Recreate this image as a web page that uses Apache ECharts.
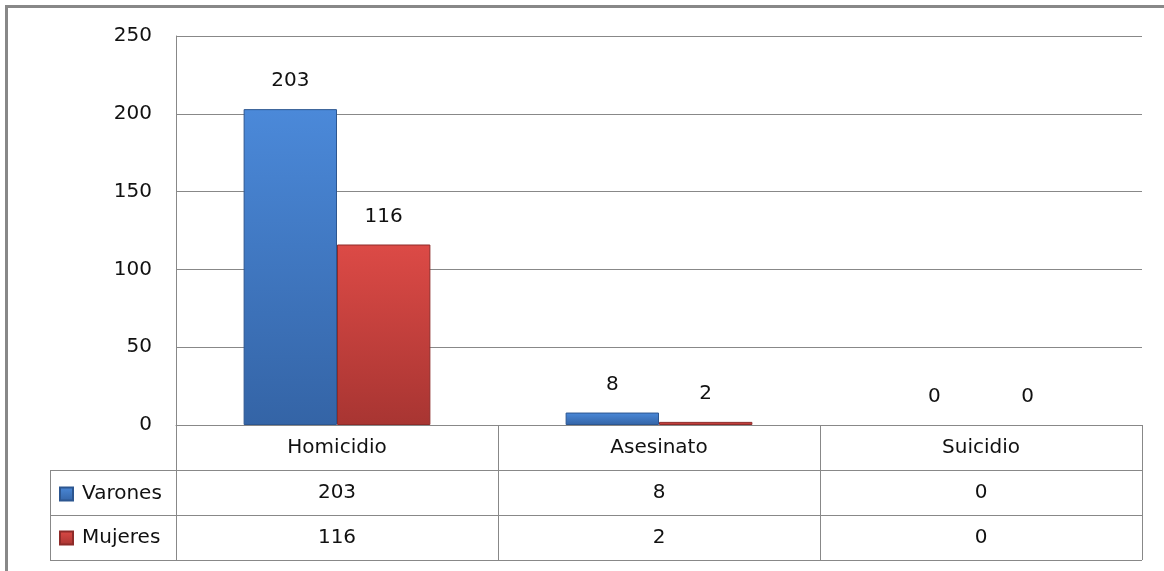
<!DOCTYPE html>
<html>
<head>
<meta charset="utf-8">
<title>Homicidio / Asesinato / Suicidio</title>
<script src="https://cdn.jsdelivr.net/npm/echarts@6/dist/echarts.min.js"></script>
<style>
  html, body { margin: 0; padding: 0; background: #fff; }
  #chart { width: 1164px; height: 571px; }
</style>
</head>
<body>
<div id="chart"></div>
<script>
const categories = ['Homicidio', 'Asesinato', 'Suicidio']
const varones = [203, 8, 0]
const mujeres = [116, 2, 0]
const yTicks = [0, 50, 100, 150, 200, 250]

const font = 'DejaVu Sans'
const lineColor = '#888'
const textColor = '#111'

const blueFill = new echarts.graphic.LinearGradient(0, 0, 0, 1, [
  { offset: 0, color: '#4b89d9' },
  { offset: 1, color: '#3464a6' }
])
const redFill = new echarts.graphic.LinearGradient(0, 0, 0, 1, [
  { offset: 0, color: '#dc4a46' },
  { offset: 1, color: '#a83532' }
])

// zero bars get no outline, so nothing shows for them
function barData(values) {
  return values.map(v => (v === 0 ? { value: v, itemStyle: { borderWidth: 0 } } : v))
}

// axis rows under the plot act as the data table
function tableAxis(values, offset) {
  return {
    type: 'category',
    data: values.map(String),
    position: 'bottom',
    offset: offset,
    axisLine: { show: false },
    axisTick: { show: false },
    axisLabel: { margin: 13, color: textColor, fontFamily: font, fontSize: 20 }
  }
}

const chart = echarts.init(document.getElementById('chart'))
chart.setOption({
  animation: false,
  grid: { left: 176, right: 22, top: 36, bottom: 146 },
  legend: {
    orient: 'vertical',
    left: 54,
    top: 479,
    itemWidth: 13,
    itemHeight: 13,
    itemGap: 24,
    icon: 'rect',
    textStyle: { color: textColor, fontFamily: font, fontSize: 20, padding: [0, 0, 0, 4] },
    data: ['Varones', 'Mujeres']
  },
  xAxis: [
    {
      type: 'category',
      data: categories,
      axisLine: { show: true, lineStyle: { color: lineColor } },
      axisTick: { show: true, interval: 0, length: 135, lineStyle: { color: lineColor } },
      axisLabel: { margin: 13, color: textColor, fontFamily: font, fontSize: 20 }
    },
    tableAxis(varones, 45),
    tableAxis(mujeres, 90)
  ],
  yAxis: {
    type: 'value',
    min: 0,
    max: 250,
    interval: 50,
    axisLine: { show: true, lineStyle: { color: lineColor } },
    axisTick: { show: false },
    splitLine: { lineStyle: { color: lineColor } },
    axisLabel: {
      margin: 24,
      color: textColor,
      fontFamily: font,
      fontSize: 20,
      formatter: v => (yTicks.includes(v) ? String(v) : '')
    }
  },
  series: [
    {
      name: 'Varones',
      type: 'bar',
      data: barData(varones),
      barWidth: '29%',
      barGap: '0%',
      itemStyle: { color: blueFill, borderColor: '#2c5690', borderWidth: 1 },
      label: { show: true, position: 'top', distance: 18, color: textColor, fontFamily: font, fontSize: 20 }
    },
    {
      name: 'Mujeres',
      type: 'bar',
      data: barData(mujeres),
      barWidth: '29%',
      barGap: '0%',
      itemStyle: { color: redFill, borderColor: '#8e2b29', borderWidth: 1 },
      label: { show: true, position: 'top', distance: 18, color: textColor, fontFamily: font, fontSize: 20 }
    }
  ],
  graphic: [
    // outer chart frame
    { type: 'rect', shape: { x: 6.5, y: 6.5, width: 1200, height: 600 }, style: { fill: 'none', stroke: lineColor, lineWidth: 3 } },
    // data table lines
    { type: 'line', shape: { x1: 50, y1: 470.5, x2: 1142, y2: 470.5 }, style: { stroke: lineColor, lineWidth: 1 } },
    { type: 'line', shape: { x1: 50, y1: 515.5, x2: 1142, y2: 515.5 }, style: { stroke: lineColor, lineWidth: 1 } },
    { type: 'line', shape: { x1: 50, y1: 560.5, x2: 1142, y2: 560.5 }, style: { stroke: lineColor, lineWidth: 1 } },
    { type: 'line', shape: { x1: 50.5, y1: 470, x2: 50.5, y2: 561 }, style: { stroke: lineColor, lineWidth: 1 } }
  ]
})
</script>
</body>
</html>
